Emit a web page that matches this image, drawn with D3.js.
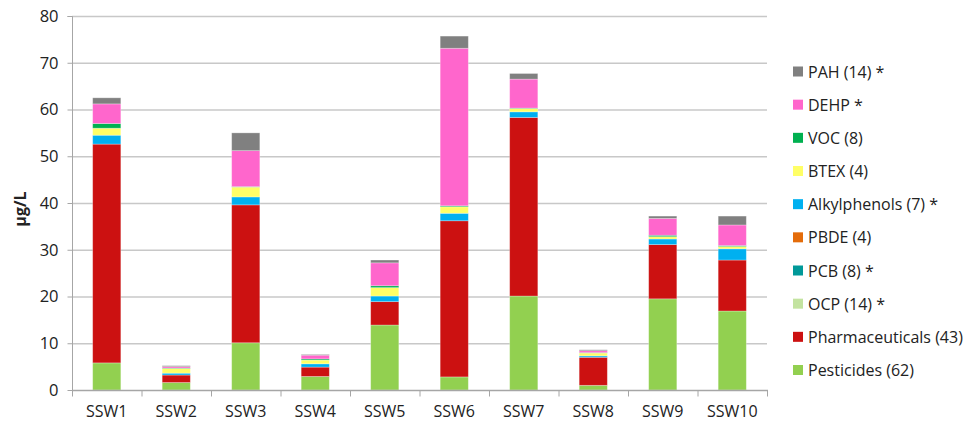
<!DOCTYPE html>
<html><head><meta charset="utf-8">
<script src="https://cdn.jsdelivr.net/npm/d3@7"></script>
<style>body{margin:0;background:#fff}svg{display:block}text{font-family:"Open Sans",sans-serif}</style>
</head><body>
<svg id="c" width="976" height="428"></svg>
<script>
const categories = ["SSW1","SSW2","SSW3","SSW4","SSW5","SSW6","SSW7","SSW8","SSW9","SSW10"];
const seriesNames = ["Pesticides (62)","Pharmaceuticals (43)","OCP (14) *","PCB (8) *","PBDE (4)","Alkylphenols (7) *","BTEX (4)","VOC (8)","DEHP *","PAH (14) *"];
const seriesColors = ["#92d050","#cc1111","#c3e3a0","#009999","#e46c0a","#00b0f0","#ffff66","#00b050","#ff66cc","#808080"];
const pesticides      = [5.8, 1.6, 10.1, 2.9, 13.9, 2.8, 20.1, 1.0, 19.5, 16.9];
const pharmaceuticals = [46.8, 1.6, 29.5, 2.0, 5.0, 33.4, 38.2, 6.0, 11.6, 10.9];
const ocp             = [0, 0, 0, 0, 0, 0, 0, 0, 0, 0];
const pcb             = [0, 0, 0, 0, 0, 0, 0, 0, 0, 0];
const pbde            = [0, 0, 0, 0, 0, 0, 0, 0, 0, 0];
const alkylphenols    = [1.9, 0.4, 1.7, 0.7, 1.2, 1.6, 1.2, 0.3, 1.2, 2.4];
const btex            = [1.5, 1.0, 2.1, 0.8, 1.8, 1.4, 0.7, 0.6, 0.5, 0.5];
const voc             = [1.0, 0.1, 0.1, 0.25, 0.4, 0.2, 0.1, 0.1, 0.3, 0.2];
const dehp            = [4.2, 0.3, 7.7, 0.8, 4.9, 33.7, 6.2, 0.4, 3.6, 4.4];
const pah             = [1.3, 0.2, 3.8, 0.15, 0.6, 2.6, 1.2, 0.2, 0.5, 1.9];
const yTicks = [0,10,20,30,40,50,60,70,80];
const yTitle = "µg/L";

const seriesValues = [pesticides, pharmaceuticals, ocp, pcb, pbde, alkylphenols, btex, voc, dehp, pah];
const rows = categories.map((c,i)=>{const r={cat:c}; seriesNames.forEach((s,j)=>r[s]=seriesValues[j][i]); return r;});
const stacked = d3.stack().keys(seriesNames)(rows);

const svg = d3.select("#c");
const L=72, R=767, T=16, B=390;
const x = d3.scaleBand().domain(categories).range([L,R]).paddingInner(0.595).paddingOuter(0.2975);
const y = d3.scaleLinear().domain([0,80]).range([B,T]);

// gridlines
svg.append("g").selectAll("line").data(yTicks.filter(t=>t>0)).join("line")
  .attr("x1",L).attr("x2",R).attr("y1",d=>y(d)+0.5).attr("y2",d=>y(d)+0.5)
  .attr("stroke","#c8c8c8").attr("stroke-width",1.3);

// bars
svg.append("g").selectAll("g").data(stacked).join("g")
  .attr("fill",(d,i)=>seriesColors[i])
  .selectAll("rect").data(d=>d).join("rect")
  .attr("x",d=>x(d.data.cat)).attr("width",x.bandwidth())
  .attr("y",d=>y(d[1])).attr("height",d=>Math.max(0,y(d[0])-y(d[1])))
  .attr("stroke","rgba(255,255,255,0.35)").attr("stroke-width",0.8);

// y axis
const ya = svg.append("g").attr("transform",`translate(${L+0.5},0)`)
  .call(d3.axisLeft(y).tickValues(yTicks).tickSize(5).tickPadding(9));
ya.select(".domain").attr("stroke","#a6a6a6").attr("d",`M-5,${y(80)+0.5}H0V${B}`);
ya.selectAll(".tick line").attr("stroke","#a6a6a6");
ya.selectAll(".tick text").attr("fill","#222").style("font-size","16.5px").style("font-family","'Open Sans',sans-serif");

// x axis
const xa = svg.append("g").attr("transform",`translate(0,${B+0.5})`);
xa.append("line").attr("x1",L).attr("x2",R+1).attr("stroke","#a6a6a6").attr("stroke-width",1.3);
const step = x.step();
xa.selectAll("line.t").data(d3.range(categories.length+1)).join("line").attr("class","t")
  .attr("x1",i=>L+i*step+0.5).attr("x2",i=>L+i*step+0.5).attr("y1",0).attr("y2",6).attr("stroke","#a6a6a6");
xa.selectAll("text").data(categories).join("text")
  .attr("x",d=>x(d)+x.bandwidth()/2).attr("y",26).attr("text-anchor","middle")
  .attr("fill","#222").style("font-size","16px").text(d=>d);

// y title
svg.append("text").attr("transform",`translate(26,${(T+B)/2+6}) rotate(-90)`)
  .attr("text-anchor","middle").attr("font-weight","bold").style("font-size","16px").attr("fill","#222").text(yTitle);

// legend (top to bottom reverse order)
const legendY = d3.scalePoint().domain(seriesNames.slice().reverse()).range([71.5,370]);
const lg = svg.append("g").selectAll("g").data(seriesNames.slice().reverse()).join("g")
  .attr("transform",d=>`translate(793,${legendY(d)})`);
lg.append("rect").attr("x",0).attr("y",-5).attr("width",10).attr("height",10)
  .attr("fill",d=>seriesColors[seriesNames.indexOf(d)]);
lg.append("text").attr("x",15).attr("y",6).style("font-size","16px").attr("fill","#222").text(d=>d);
</script>
</body></html>
